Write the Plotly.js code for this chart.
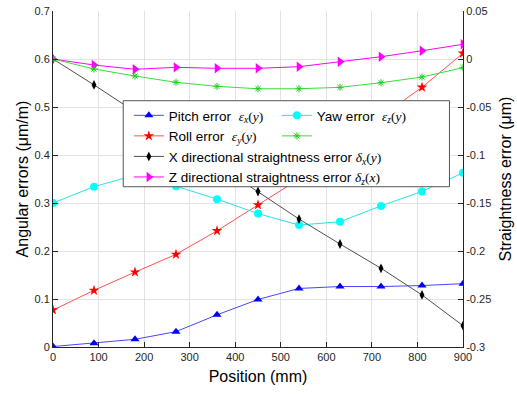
<!DOCTYPE html>
<html>
<head>
<meta charset="utf-8">
<script src="https://cdn.plot.ly/plotly-3.0.1.min.js"></script>
<style>html,body{margin:0;padding:0;background:#fff;}#chart{width:517px;height:394px;}</style>
</head>
<body>
<div id="chart"></div>
<script>
// ---- data ----
const positions = [0, 90, 180, 270, 360, 450, 540, 630, 720, 810, 900];
const pitchError = [0.001, 0.008, 0.016, 0.032, 0.067, 0.099, 0.122, 0.126, 0.126, 0.128, 0.132];
const rollError = [0.077, 0.118, 0.156, 0.193, 0.242, 0.296, 0.350, 0.415, 0.480, 0.541, 0.612];
const yawError = [0.300, 0.334, 0.358, 0.335, 0.308, 0.278, 0.254, 0.261, 0.294, 0.324, 0.363];
const greenSeries = [0, -0.0104, -0.0177, -0.0243, -0.0285, -0.031, -0.031, -0.0295, -0.0247, -0.0188, -0.009];
const xStraightness = [0, -0.027, -0.055, -0.083, -0.110, -0.138, -0.1667, -0.1927, -0.218, -0.2458, -0.2778];
const zStraightness = [0, -0.0063, -0.0107, -0.0087, -0.0097, -0.0097, -0.008, -0.0028, 0.0024, 0.0086, 0.0153];

const xTicks = [0, 100, 200, 300, 400, 500, 600, 700, 800, 900];
const xTickText = ['0', '100', '200', '300', '400', '500', '600', '700', '800', '900'];
const yTicks = [0, 0.1, 0.2, 0.3, 0.4, 0.5, 0.6, 0.7];
const yTickText = ['0', '0.1', '0.2', '0.3', '0.4', '0.5', '0.6', '0.7'];
const y2Ticks = [-0.3, -0.25, -0.2, -0.15, -0.1, -0.05, 0, 0.05];
const y2TickText = ['-0.3', '-0.25', '-0.2', '-0.15', '-0.1', '-0.05', '0', '0.05'];

// ---- helpers ----
const NB = '\u00a0';
const serif = s => `<span style="font-family:'Liberation Serif',serif">${s}</span>`;
const sym = (g, sub, arg) => serif(`<i>${g}</i><sub><i>${sub}</i></sub>(<i>${arg}</i>)`);

const axisColor = '#262626';
const gridColor = '#e2e2e2';

const traces = [
  {
    x: positions, y: pitchError, yaxis: 'y', legend: 'legend',
    name: 'Pitch error' + NB + NB + sym('ε', 'x', 'y'),
    mode: 'lines+markers',
    line: {color: 'rgb(70,70,255)', width: 1},
    marker: {symbol: 'triangle-up', size: 8, color: '#0000ff'}
  },
  {
    x: positions, y: rollError, yaxis: 'y', legend: 'legend',
    name: 'Roll error' + NB + NB + sym('ε', 'y', 'y'),
    mode: 'lines+markers',
    line: {color: 'rgb(255,80,80)', width: 1},
    marker: {symbol: 'star', size: 8, color: '#ff0000'}
  },
  {
    x: positions, y: xStraightness, yaxis: 'y2', legend: 'legend',
    name: 'X directional straightness error' + NB + sym('δ', 'x', 'y'),
    mode: 'lines+markers',
    line: {color: '#505050', width: 1},
    marker: {symbol: 'diamond-tall', size: 7, color: '#000000'}
  },
  {
    x: positions, y: zStraightness, yaxis: 'y2', legend: 'legend',
    name: 'Z directional straightness error' + NB + sym('δ', 'z', 'x'),
    mode: 'lines+markers',
    line: {color: '#ff00ff', width: 1},
    marker: {symbol: 'triangle-right', size: 9, color: '#ff00ff'}
  },
  {
    x: positions, y: yawError, yaxis: 'y', legend: 'legend2',
    name: 'Yaw error' + NB + NB + sym('ε', 'z', 'y'),
    mode: 'lines+markers',
    line: {color: 'rgb(40,225,230)', width: 1},
    marker: {symbol: 'circle', size: 8, color: '#00ffff'}
  },
  {
    x: positions, y: greenSeries, yaxis: 'y2', legend: 'legend2',
    name: ' ',
    mode: 'lines+markers',
    line: {color: 'rgb(60,220,60)', width: 1},
    marker: {symbol: 'asterisk-open', size: 6, color: '#22cc22', line: {color: '#22cc22', width: 1}}
  }
];

const legendFont = {family: 'Liberation Sans, Arial, sans-serif', size: 13.5, color: '#000'};

const layout = {
  width: 517, height: 394,
  margin: {l: 53, r: 53.5, t: 11, b: 47, pad: 0},
  paper_bgcolor: '#fff', plot_bgcolor: '#fff',
  font: {family: 'Liberation Sans, Arial, sans-serif', size: 11, color: axisColor},
  xaxis: {
    range: [0, 900], tickmode: 'array', tickvals: xTicks, ticktext: xTickText,
    showgrid: true, gridcolor: gridColor, gridwidth: 1,
    showline: true, linecolor: axisColor, linewidth: 1,
    ticks: 'inside', ticklen: 5, tickcolor: axisColor, zeroline: false, automargin: false,
    tickfont: {size: 11, color: axisColor},
    title: {text: 'Position (mm)', font: {size: 16, color: '#000'}, standoff: 8}
  },
  yaxis: {
    range: [0, 0.7], tickmode: 'array', tickvals: yTicks, ticktext: yTickText,
    showgrid: true, gridcolor: gridColor, gridwidth: 1,
    showline: true, linecolor: axisColor, linewidth: 1,
    ticks: 'inside', ticklen: 5, tickcolor: axisColor, zeroline: false, automargin: false,
    tickfont: {size: 11, color: axisColor},
    title: {text: 'Angular errors (μm/m)', font: {size: 16, color: '#000'}, standoff: 1}
  },
  yaxis2: {
    overlaying: 'y', side: 'right', anchor: 'x',
    range: [-0.3, 0.05], tickmode: 'array', tickvals: y2Ticks, ticktext: y2TickText,
    showgrid: false, showline: true, linecolor: axisColor, linewidth: 1,
    ticks: 'inside', ticklen: 5, tickcolor: axisColor, zeroline: false, automargin: false,
    tickfont: {size: 11, color: axisColor},
    title: {text: 'Straightness error (μm)', font: {size: 16, color: '#000'}, standoff: 9}
  },
  shapes: [{
    type: 'rect', xref: 'paper', yref: 'paper', layer: 'above',
    x0: 0.1713, x1: 0.967, y0: 0.477, y1: 0.733,
    fillcolor: '#ffffff', line: {color: '#555', width: 1}
  }],
  legend: {
    x: 0.185, y: 0.735, xanchor: 'left', yanchor: 'top',
    bgcolor: 'rgba(0,0,0,0)', borderwidth: 0, font: legendFont,
    traceorder: 'normal', itemwidth: 30, tracegroupgap: 0
  },
  legend2: {
    x: 0.546, y: 0.735, xanchor: 'left', yanchor: 'top',
    bgcolor: 'rgba(0,0,0,0)', borderwidth: 0, font: legendFont,
    traceorder: 'normal', itemwidth: 30, tracegroupgap: 0
  },
  showlegend: true
};

Plotly.newPlot('chart', traces, layout, {displayModeBar: false, staticPlot: true});
</script>
</body>
</html>
